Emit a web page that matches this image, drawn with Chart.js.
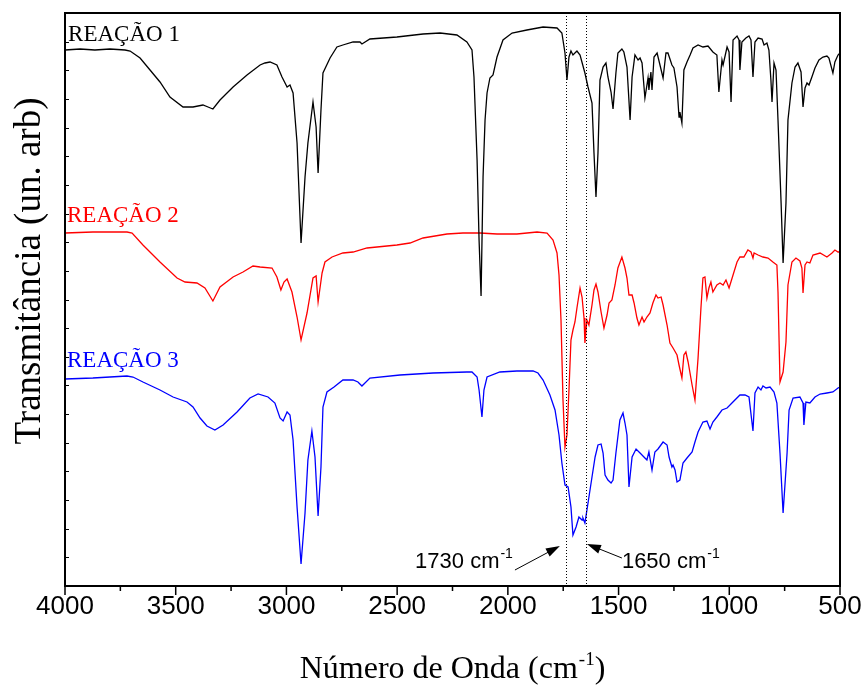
<!DOCTYPE html>
<html>
<head>
<meta charset="utf-8">
<script src="https://cdn.jsdelivr.net/npm/chart.js@4.4.1/dist/chart.umd.min.js"></script>
<style>
  html, body { margin: 0; padding: 0; background: #fff; }
  canvas { display: block; }
</style>
</head>
<body>
<canvas id="ftir" width="864" height="687"></canvas>
<script>
// wavenumbers (cm-1) and transmittance (arbitrary units, offset traces)
const waveR1 = [4000,3932,3865,3797,3729,3706,3661,3616,3571,3526,3467,3422,3377,3354,3332,3300,3241,3178,3119,3097,3074,3043,3020,2997,2984,2970,2952,2934,2916,2903,2880,2866,2857,2844,2835,2803,2772,2745,2699,2668,2659,2623,2501,2383,2306,2230,2185,2162,2153,2139,2130,2121,2112,2103,2094,2081,2067,2049,2022,1981,1914,1841,1778,1756,1742,1733,1724,1715,1706,1688,1674,1652,1638,1620,1611,1602,1593,1584,1570,1557,1548,1534,1525,1512,1503,1485,1476,1462,1448,1439,1426,1412,1403,1394,1381,1367,1363,1354,1349,1340,1326,1313,1299,1286,1277,1259,1250,1236,1227,1223,1214,1205,1191,1177,1164,1141,1119,1096,1074,1056,1047,1033,1028,1010,1001,992,983,965,956,952,943,925,911,902,893,884,870,852,843,830,821,812,807,798,789,780,766,757,744,735,717,703,690,676,667,658,649,640,627,613,595,577,559,550,532,523,509,500];
const transR1 = [536,537,536,537,536,535,528,516,504,489,479,479,481,479,477,486,499,511,521,523,524,521,509,499,501,493,443,343,409,443,484,459,413,476,513,528,539,541,544,544,542,547,549,552,553,551,544,536,509,426,346,290,409,466,493,508,511,529,546,553,556,559,558,553,533,506,529,535,531,535,531,513,499,483,433,389,433,506,519,523,509,494,477,513,533,537,534,519,466,509,531,526,528,523,488,508,496,514,496,529,533,521,508,533,533,521,518,499,469,474,463,516,524,531,538,541,539,540,534,531,494,526,521,539,534,484,546,550,546,516,544,548,550,546,509,544,548,547,541,543,536,506,484,523,516,466,383,323,383,466,503,519,523,514,479,498,503,501,509,518,526,529,530,528,513,524,531,533];

const waveR2 = [4000,3874,3720,3697,3648,3571,3494,3458,3404,3368,3332,3300,3241,3196,3151,3119,3065,3043,3025,3011,2997,2975,2952,2934,2907,2880,2866,2857,2839,2826,2794,2745,2699,2636,2501,2442,2383,2275,2203,2126,2049,1959,1868,1823,1796,1778,1769,1760,1751,1742,1733,1724,1715,1706,1697,1688,1674,1665,1656,1652,1643,1634,1620,1611,1602,1593,1579,1566,1552,1543,1530,1516,1503,1485,1471,1462,1453,1439,1430,1417,1408,1394,1385,1372,1358,1345,1331,1322,1308,1299,1281,1268,1254,1236,1227,1214,1205,1196,1186,1168,1155,1141,1128,1119,1110,1101,1092,1083,1074,1056,1042,1028,1015,1001,983,965,952,934,916,902,893,888,870,848,825,803,785,780,771,757,744,735,717,699,681,672,667,658,649,636,622,590,559,536,523,509,500];
const transR2 = [353,354,354,353,341,324,308,304,303,298,285,299,309,314,320,319,318,309,296,304,307,294,269,246,273,308,310,284,313,324,329,333,334,338,341,343,348,352,353,353,352,352,354,353,346,333,311,266,186,139,151,196,246,256,264,278,298,289,268,243,266,261,281,296,302,294,274,258,271,283,286,301,318,329,318,308,291,291,283,268,261,269,264,269,273,283,291,288,289,281,261,243,238,231,221,208,231,234,224,201,186,228,278,308,309,288,298,304,294,301,303,301,306,298,311,324,329,329,336,334,328,333,331,329,328,324,321,294,204,214,244,301,324,328,325,318,293,321,324,323,331,333,329,333,336,334,334];

const waveR3 = [4000,3874,3720,3693,3648,3571,3512,3449,3422,3390,3359,3323,3286,3223,3165,3128,3083,3052,3029,3015,2997,2984,2970,2952,2934,2916,2903,2885,2871,2857,2844,2835,2817,2785,2745,2699,2677,2659,2623,2487,2338,2185,2162,2139,2130,2117,2108,2094,2036,1959,1886,1864,1841,1810,1787,1769,1756,1742,1728,1715,1706,1692,1679,1665,1661,1652,1638,1620,1606,1593,1579,1570,1561,1548,1534,1525,1512,1494,1480,1471,1462,1453,1439,1421,1403,1381,1372,1363,1349,1336,1322,1299,1281,1272,1259,1254,1245,1236,1223,1209,1191,1168,1155,1141,1119,1101,1087,1074,1056,1033,1010,988,952,929,911,893,884,870,857,848,834,816,798,785,771,757,739,730,712,681,667,663,654,636,613,590,559,532,509,500];
const transR3 = [207,208,210,209,204,196,189,184,179,168,160,156,161,174,188,192,189,183,168,165,174,171,146,79,22,73,126,155,129,70,119,179,194,199,206,206,204,200,208,211,213,214,214,209,196,169,196,209,214,215,215,213,206,191,176,151,123,101,99,79,51,59,69,66,68,63,83,109,129,141,142,133,111,106,103,106,133,166,173,163,151,99,129,137,133,128,126,134,116,134,137,144,141,129,119,121,116,104,106,123,128,134,144,154,164,165,157,164,169,176,178,183,191,191,189,155,193,199,196,200,198,199,194,183,133,73,133,176,188,189,183,161,184,183,189,192,193,194,198,199];

const seriesNames = ['REAÇÃO 1', 'REAÇÃO 2', 'REAÇÃO 3'];
const seriesColors = ['#000000', '#ff0000', '#0000ff'];
const xMajorTicks = [4000, 3500, 3000, 2500, 2000, 1500, 1000, 500];
const xMinorTicks = [3750, 3250, 2750, 2250, 1750, 1250, 750];
const markerWaves = [1737, 1645];
const markerLabels = ['1730 cm', '1650 cm'];
const yTitle = 'Transmitância (un. arb)';

const SERIF = '"Liberation Serif", "Times New Roman", serif';
const SANS = '"Liberation Sans", Arial, sans-serif';

function toPoints(xs, ys) { return xs.map((w, i) => ({ x: w, y: ys[i] })); }

function textWithSup(ctx, base, sup, x, y, size, supSize, rise, family) {
  ctx.font = size + 'px ' + family;
  ctx.fillText(base, x, y);
  let w = ctx.measureText(base).width;
  ctx.font = supSize + 'px ' + family;
  ctx.fillText(sup, x + w + 1, y - rise);
  return w + 1 + ctx.measureText(sup).width;
}

function arrow(ctx, x0, y0, x1, y1) {
  const ang = Math.atan2(y1 - y0, x1 - x0), L = 14, H = 4.5;
  ctx.beginPath(); ctx.moveTo(x0, y0); ctx.lineTo(x1 - L * 0.6 * Math.cos(ang), y1 - L * 0.6 * Math.sin(ang)); ctx.stroke();
  ctx.beginPath();
  ctx.moveTo(x1, y1);
  ctx.lineTo(x1 - L * Math.cos(ang) + H * Math.sin(ang), y1 - L * Math.sin(ang) - H * Math.cos(ang));
  ctx.lineTo(x1 - L * Math.cos(ang) - H * Math.sin(ang), y1 - L * Math.sin(ang) + H * Math.cos(ang));
  ctx.closePath(); ctx.fill();
}

const overlay = {
  id: 'overlay',
  afterDatasetsDraw(chart) {
    const { ctx, chartArea: a, scales: { x } } = chart;
    ctx.save();
    ctx.strokeStyle = '#000';
    ctx.lineWidth = 1;
    ctx.setLineDash([1, 2]);
    markerWaves.forEach(w => {
      const p = Math.round(x.getPixelForValue(w)) + 0.5;
      ctx.beginPath(); ctx.moveTo(p, a.top); ctx.lineTo(p, a.bottom); ctx.stroke();
    });
    ctx.restore();
  },
  afterDraw(chart) {
    const { ctx, chartArea: a, scales: { x, y } } = chart;
    ctx.save();
    ctx.strokeStyle = '#000';
    ctx.fillStyle = '#000';

    // frame
    ctx.lineWidth = 2;
    ctx.strokeRect(a.left, a.top, a.right - a.left, a.bottom - a.top);

    // x ticks (outside), y ticks (inside)
    ctx.lineWidth = 1.5;
    ctx.beginPath();
    xMajorTicks.forEach(v => { const p = x.getPixelForValue(v); ctx.moveTo(p, a.bottom); ctx.lineTo(p, a.bottom + 9); });
    xMinorTicks.forEach(v => { const p = x.getPixelForValue(v); ctx.moveTo(p, a.bottom); ctx.lineTo(p, a.bottom + 5); });
    ctx.stroke();
    ctx.lineWidth = 1;
    ctx.beginPath();
    for (let v = 573 / 20; v < 573; v += 573 / 20) {
      const p = Math.round(y.getPixelForValue(v)) + 0.5;
      ctx.moveTo(a.left, p); ctx.lineTo(a.left + 4, p);
    }
    ctx.stroke();

    // series labels
    const labelPos = [[3986, 545], [3991, 364], [3991, 219]];
    ctx.font = '23px ' + SERIF;
    ctx.textBaseline = 'alphabetic';
    seriesNames.forEach((n, i) => {
      ctx.fillStyle = seriesColors[i];
      ctx.fillText(n, x.getPixelForValue(labelPos[i][0]), y.getPixelForValue(labelPos[i][1]));
    });

    // band annotations
    ctx.fillStyle = '#000';
    ctx.lineWidth = 1;
    arrow(ctx, x.getPixelForValue(1968), y.getPixelForValue(16), x.getPixelForValue(1765), y.getPixelForValue(40));
    arrow(ctx, x.getPixelForValue(1485), y.getPixelForValue(28), x.getPixelForValue(1643), y.getPixelForValue(42));
    textWithSup(ctx, markerLabels[0], '-1', x.getPixelForValue(2419), y.getPixelForValue(18), 22, 14, 10, SANS);
    textWithSup(ctx, markerLabels[1], '-1', x.getPixelForValue(1485), y.getPixelForValue(18), 22, 14, 10, SANS);

    // y axis title
    ctx.save();
    ctx.translate(30, y.getPixelForValue(315));
    ctx.rotate(-Math.PI / 2);
    ctx.font = '37px ' + SERIF;
    ctx.textAlign = 'center';
    ctx.textBaseline = 'middle';
    ctx.fillText(yTitle, 0, 0);
    ctx.restore();

    // x axis title
    const cx = (a.left + a.right) / 2;
    ctx.font = '32px ' + SERIF;
    const w1 = ctx.measureText('Número de Onda (cm').width;
    ctx.font = '19px ' + SERIF;
    const w2 = ctx.measureText('-1').width;
    ctx.font = '32px ' + SERIF;
    const w3 = ctx.measureText(')').width;
    let sx = cx - (w1 + w2 + w3 + 1) / 2;
    const by = 678;
    sx += textWithSup(ctx, 'Número de Onda (cm', '-1', sx, by, 32, 19, 13, SERIF);
    ctx.font = '32px ' + SERIF;
    ctx.fillText(')', sx, by);
    ctx.restore();
  }
};

new Chart(document.getElementById('ftir'), {
  type: 'line',
  data: {
    datasets: [
      { label: seriesNames[0], data: toPoints(waveR1, transR1), borderColor: seriesColors[0] },
      { label: seriesNames[1], data: toPoints(waveR2, transR2), borderColor: seriesColors[1] },
      { label: seriesNames[2], data: toPoints(waveR3, transR3), borderColor: seriesColors[2] }
    ]
  },
  options: {
    responsive: false,
    animation: false,
    layout: { padding: { top: 13, right: 24, left: 0, bottom: 0 } },
    elements: { point: { radius: 0 }, line: { borderWidth: 1.3, tension: 0, fill: false } },
    plugins: { legend: { display: false }, tooltip: { enabled: false } },
    scales: {
      x: {
        type: 'linear', reverse: true, min: 500, max: 4000,
        afterFit: s => { s.height = 101; s.paddingLeft = 0; s.paddingRight = 0; },
        afterBuildTicks: s => { s.ticks = xMajorTicks.map(v => ({ value: v })); },
        grid: { display: false, drawTicks: false },
        border: { display: false },
        ticks: { color: '#000', padding: 5, maxRotation: 0, autoSkip: false, callback: v => String(v), font: { family: SANS, size: 26 } }
      },
      y: {
        min: 0, max: 573,
        afterFit: s => { s.width = 65; },
        grid: { display: false, drawTicks: false },
        border: { display: false },
        ticks: { display: false }
      }
    }
  },
  plugins: [overlay]
});
</script>
</body>
</html>
